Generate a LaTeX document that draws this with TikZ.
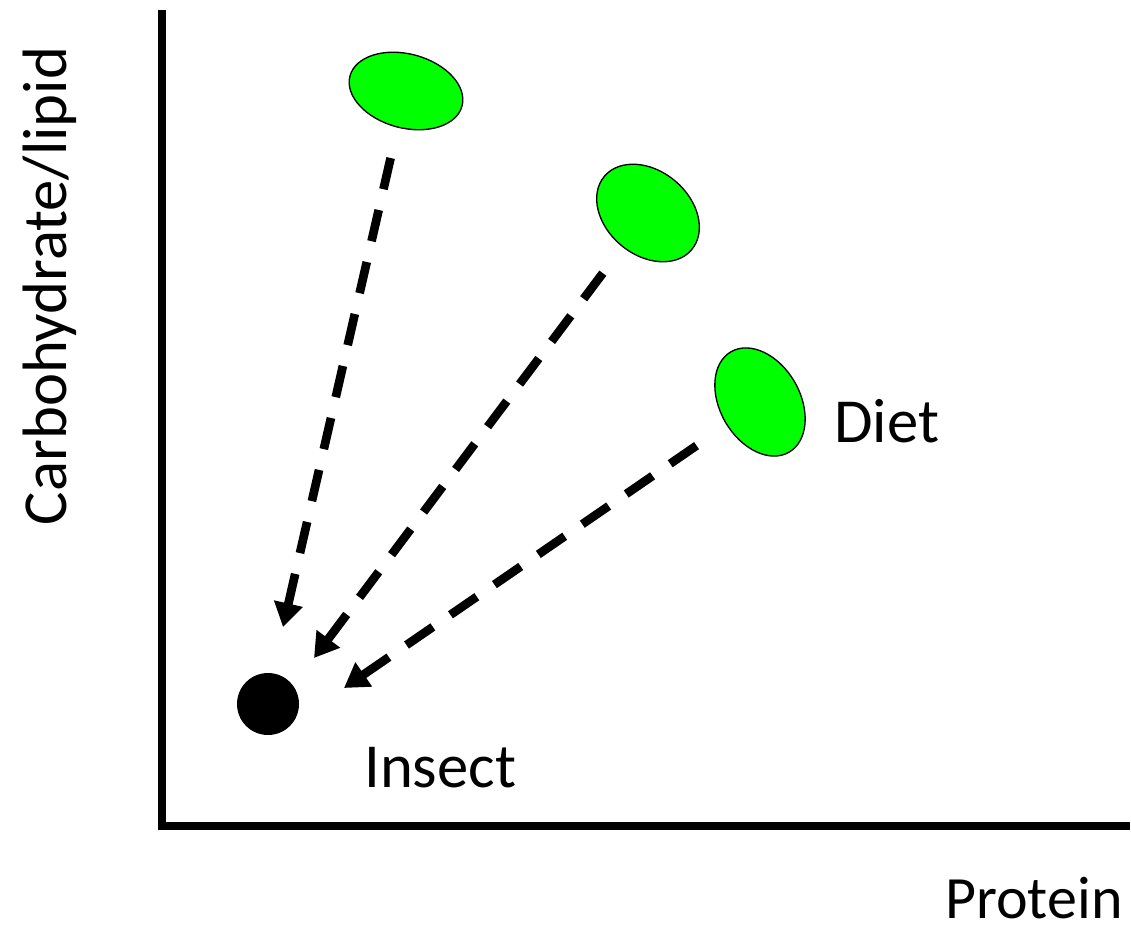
\documentclass[tikz,border=0pt]{standalone}
\usepackage{fontspec}
\setmainfont{Carlito}
\usepackage{tikz}
\usetikzlibrary{arrows.meta,shapes.geometric}
\definecolor{dietgreen}{HTML}{00FF00}

\begin{document}
\begin{tikzpicture}[x=0.75pt, y=-0.75pt,
  diet/.style={ellipse, draw, line width=1pt, fill=dietgreen, inner sep=0pt},
  arr/.style={line width=6.5pt, dash pattern=on 24pt off 16pt,
    {Triangle[length=18pt, width=21pt]}-},
  axis/.style={line width=6pt},
  lbl/.style={font=\fontsize{47}{56}\selectfont, inner sep=0pt}
]
  \useasboundingbox (0,0) rectangle (1131,930);

  % axes
  \coordinate (origin) at (162,825.5);
  \coordinate (ytop) at (162,10);
  \coordinate (xend) at (1130,825.5);
  \draw[axis] (origin) -- (ytop);
  \draw[axis] ([xshift=-3pt]origin) -- (xend);
  \node[lbl, rotate=90, anchor=base] (ylabel) at (66,286) {Carbohydrate/lipid};
  \node[lbl, font=\fontsize{45}{54}\selectfont, anchor=base west] (xlabel) at (945,918) {Protein};

  % diets and insect
  \node[diet, minimum width=87pt, minimum height=55.5pt, rotate=-15] (d1) at (406,91) {};
  \node[diet, minimum width=85.5pt, minimum height=63pt, rotate=-40] (d2) at (648,213) {};
  \node[diet, minimum width=87pt, minimum height=60pt, rotate=-60] (d3) at (760,402) {};
  \node[circle, fill=black, inner sep=0pt, minimum size=46.5pt] (insect) at (268,704) {};
  \node[lbl, anchor=base west] (dlabel) at (834,442) {Diet};
  \node[lbl, anchor=base west] (ilabel) at (364,787) {Insect};

  % arrows start at the tip, so the dashes meet the heads
  \coordinate (t1) at (283,627);
  \coordinate (t2) at (314,658);
  \coordinate (t3) at (344,688);
  \draw[arr, shorten >=9pt] (t1) -- (d1);
  \draw[arr, shorten >=20pt] (t2) -- (d2);
  \draw[arr, shorten >=15pt] (t3) -- (d3);
\end{tikzpicture}
\end{document}
